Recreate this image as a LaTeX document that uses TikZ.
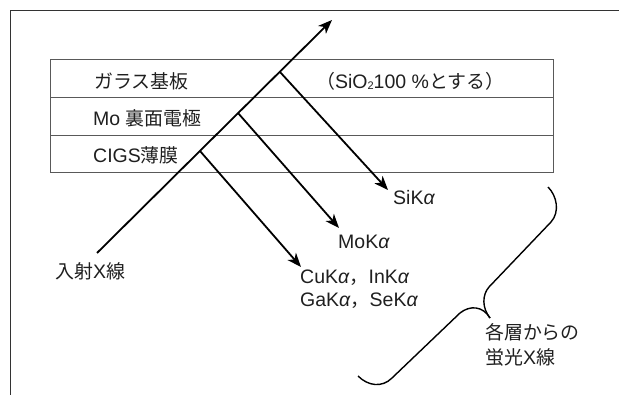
\documentclass[tikz,border=0pt]{standalone}
\usepackage{fontspec}
\setmainfont{Liberation Sans}
\newfontfamily\jp[Scale=0.97]{Noto Sans CJK JP}
\usetikzlibrary{arrows.meta}
\begin{document}
\begin{tikzpicture}[x=1pt,y=-1pt,
  framestyle/.style={line width=1pt,draw=black!80},
  layerline/.style={line width=0.9pt,draw=black!65},
  ray/.style={line width=1.8pt,draw=black},
  rayarrow/.style={ray,-{Stealth[length=14pt,width=11pt,inset=4pt]}},
  bracestyle/.style={line width=1.4pt,draw=black},
  txt/.style={inner sep=0pt,anchor=west,font=\fontsize{19.5}{23}\selectfont,text=black!88}]
\useasboundingbox (0,0) rectangle (619,395);
% frame
\draw[framestyle] (619,10.5) -- (10,10.5) -- (10,395);
% layers
\draw[layerline] (50,59) rectangle (553,172);
\draw[layerline] (50,97) -- (553,97);
\draw[layerline] (50,135) -- (553,135);
% texts
\node[txt] (glass) at (94,81) {\jp ガラス基板};
\node[txt] (mo) at (93,118) {Mo {\jp 裏面電極}};
\node[txt] (cigs) at (93,155) {CIGS{\jp 薄膜}};
\node[txt] (sio) at (316,81) {{\jp （}SiO{\fontsize{11}{11}\selectfont\raisebox{-1pt}{2}}100 \%{\jp とする）}};
\node[txt] (inc) at (55,271) {{\jp 入射}X{\jp 線}};
\node[txt] (si) at (393,198) {SiK\textit{α}};
\node[txt] (moka) at (338,242) {MoK\textit{α}};
\node[txt,align=left] (cu) at (300,289.5) {CuK\textit{α}{\jp ，}InK\textit{α}\\GaK\textit{α}{\jp ，}SeK\textit{α}};
\node[txt,align=left,font=\fontsize{19.5}{25}\selectfont] (lab) at (485,344.5) {{\jp 各層からの}\\{\jp 蛍光}X{\jp 線}};
% incident ray
\coordinate (s) at (97,253);
\coordinate (t) at (332,20);
\coordinate (b1) at (200,151);
\coordinate (b2) at (238,113);
\coordinate (b3) at (280,72);
\coordinate (e1) at (301,267);
\coordinate (e2) at (339,228);
\coordinate (e3) at (388,190);
\draw[rayarrow] (s) -- (t);
\draw[rayarrow] (b1) -- (e1);
\draw[rayarrow] (b2) -- (e2);
\draw[rayarrow] (b3) -- (e3);
% brace
\draw[bracestyle] (548,187) .. controls (557,196) and (560,212) .. (551,222) -- (489,287) .. controls (482,295) and (482,308) .. (490,318);
\draw[bracestyle] (490,318) .. controls (483,306) and (470,305) .. (460,313) -- (392,378) .. controls (382,388) and (368,386) .. (358,376);
\end{tikzpicture}
\end{document}
